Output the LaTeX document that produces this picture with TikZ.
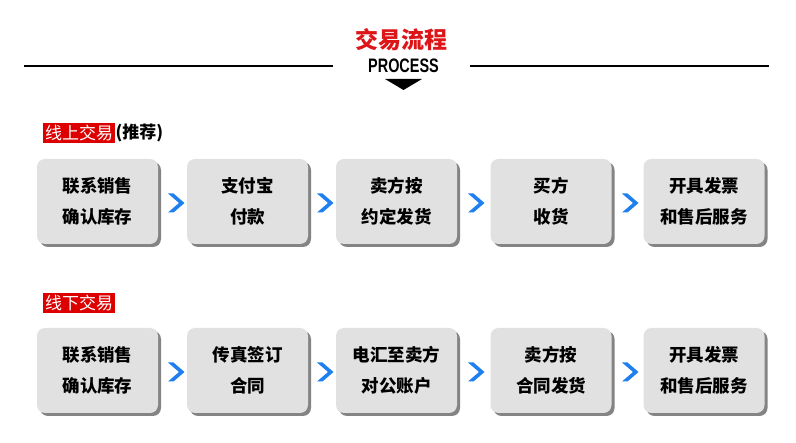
\documentclass[tikz,border=0pt]{standalone}
\usepackage{fontspec}
\newfontfamily\cjk{Noto Sans CJK SC}
\newfontfamily\latinsans{Liberation Sans}
\usetikzlibrary{shadows}
\definecolor{titlered}{HTML}{DD1518}
\definecolor{labelred}{HTML}{DD0000}
\definecolor{boxgray}{HTML}{E1E1E1}
\definecolor{chevblue}{HTML}{1E80F0}
\tikzset{
  stepbox/.style={draw=none, fill=boxgray, rounded corners=8pt,
    minimum width=121pt, minimum height=85pt, inner sep=0pt,
    align=center, font=\cjk\bfseries\fontsize{17.5}{31}\selectfont,
    drop shadow={shadow xshift=3pt, shadow yshift=-3pt, opacity=0.6, fill=black!80}},
  redlabel/.style={fill=labelred, text=white, inner xsep=2pt, inner ysep=1pt,
    minimum height=20pt, font=\cjk\fontsize{17}{20}\selectfont, anchor=west},
  chev/.style={fill=chevblue, draw=none},
  rule/.style={line width=1.4pt, black}
}
\newcommand{\chevron}[2]{%
  \fill[chev] (#1-8,#2-9.5) -- (#1-2.5,#2-9.5) -- (#1+8.5,#2) -- (#1-2.5,#2+9.5) -- (#1-8,#2+9.5) -- (#1+3,#2) -- cycle;}
\begin{document}
\begin{tikzpicture}[x=1pt,y=-1pt]
\useasboundingbox[fill=white] (0,0) rectangle (796,443);
% header
\node[font=\cjk\bfseries\fontsize{23}{23}\selectfont, text=titlered] (title) at (401,40) {交易流程};
\node[font=\latinsans\bfseries\fontsize{19.5}{19.5}\selectfont, xscale=0.74, inner sep=0pt] (proc) at (403.5,65.5) {PROCESS};
\coordinate (l1) at (24,66); \coordinate (l2) at (333,66);
\coordinate (r1) at (470,66); \coordinate (r2) at (769,66);
\draw[rule] (l1) -- (l2);
\draw[rule] (r1) -- (r2);
\coordinate (t1) at (385,79); \coordinate (t2) at (422,79); \coordinate (t3) at (403.5,90);
\fill[black] (t1) -- (t2) -- (t3) -- cycle;
% labels
\node[redlabel] (on) at (43,133) {线上交易};
\node[font=\cjk\bfseries\fontsize{17}{20}\selectfont, anchor=west, inner xsep=0pt] (onrec) at (on.east) {(推荐)};
\node[redlabel] (off) at (43,303.5) {线下交易};
% upper row
\node[stepbox] (a1) at (97.5,201.5) {联系销售\\确认库存};
\node[stepbox] (a2) at (247.5,201.5) {支付宝\\付款};
\node[stepbox] (a3) at (396.5,201.5) {卖方按\\约定发货};
\node[stepbox] (a4) at (551,201.5) {买方\\收货};
\node[stepbox] (a5) at (704,201.5) {开具发票\\和售后服务};
\chevron{176}{203}
\chevron{325}{203}
\chevron{476}{203}
\chevron{630}{203}
% lower row
\node[stepbox] (b1) at (97.5,370.5) {联系销售\\确认库存};
\node[stepbox] (b2) at (247.5,370.5) {传真签订\\合同};
\node[stepbox] (b3) at (396.5,370.5) {电汇至卖方\\对公账户};
\node[stepbox] (b4) at (551,370.5) {卖方按\\合同发货};
\node[stepbox] (b5) at (704,370.5) {开具发票\\和售后服务};
\chevron{176}{372}
\chevron{325}{372}
\chevron{476}{372}
\chevron{630}{372}
\end{tikzpicture}
\end{document}
